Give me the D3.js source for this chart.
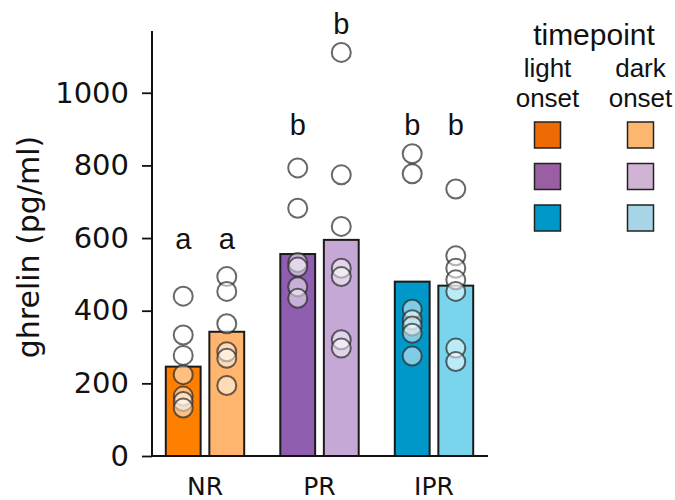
<!DOCTYPE html>
<html>
<head>
<meta charset="utf-8">
<script src="https://cdn.jsdelivr.net/npm/d3@7"></script>
<style>
  html, body { margin: 0; padding: 0; background: #fff; }
  svg { display: block; }
</style>
</head>
<body>
<svg id="chart" width="675" height="500"></svg>
<script>
// ---------- data ----------
const groups = ["NR", "PR", "IPR"];
const timepoints = ["light", "dark"];
const timepointLabels = [["light", "onset"], ["dark", "onset"]];
const yTicks = [0, 200, 400, 600, 800, 1000];

// mean bar heights (pg/ml), [light, dark] per group
const meanNR = [246, 342];
const meanPR = [556, 595];
const meanIPR = [480, 469];

// individual animals
const ptsNRlight = [440, 333, 277, 224, 165, 150, 132];
const ptsNRdark = [494, 453, 364, 287, 269, 194];
const ptsPRlight = [793, 682, 533, 520, 466, 434];
const ptsPRdark = [1111, 774, 632, 517, 494, 320, 297];
const ptsIPRlight = [832, 777, 404, 375, 358, 338, 275];
const ptsIPRdark = [735, 551, 517, 485, 453, 297, 260];

// significance letters and their heights (data units)
const sigLetters = [["a", "a"], ["b", "b"], ["b", "b"]];
const sigHeights = [[570, 570], [884, 1162], [884, 884]];

const barColors = [["#FF7F00", "#FFB56E"], ["#8F5EAF", "#C5A8D6"], ["#0098C8", "#79D5EE"]];
const legendColors = [["#EE6A05", "#FDB66D"], ["#9A5FA3", "#D1B3D5"], ["#0097C9", "#A5D5E6"]];

const means = [meanNR, meanPR, meanIPR];
const points = [[ptsNRlight, ptsNRdark], [ptsPRlight, ptsPRdark], [ptsIPRlight, ptsIPRdark]];

// ---------- layout ----------
const svg = d3.select("#chart");
const axisX = 152, axisBottom = 456, axisTop = 31, axisRight = 488;

const y = d3.scaleLinear().domain([0, 1170]).range([axisBottom, axisTop]);
const x = d3.scaleBand().domain(groups).range([147.75, 491.25]).padding(0);
const xSub = d3.scaleBand().domain(timepoints).range([-39.2, 39.2]).paddingInner(0.2).paddingOuter(0);

// bars
const barData = [];
groups.forEach((g, gi) => timepoints.forEach((t, ti) => {
  barData.push({g, t, gi, ti, v: means[gi][ti], pts: points[gi][ti]});
}));

const gx = d => x(d.g) + x.bandwidth() / 2 + xSub(d.t);

svg.append("g").selectAll("rect").data(barData).join("rect")
  .attr("x", d => gx(d))
  .attr("y", d => y(d.v))
  .attr("width", xSub.bandwidth())
  .attr("height", d => y(0) - y(d.v))
  .attr("fill", d => barColors[d.gi][d.ti])
  .attr("stroke", "#1a1a1a")
  .attr("stroke-width", 2);

// points
const ptData = [];
barData.forEach(d => d.pts.forEach(v => ptData.push({cx: gx(d) + xSub.bandwidth() / 2, v})));
svg.append("g").selectAll("circle").data(ptData).join("circle")
  .attr("cx", d => d.cx)
  .attr("cy", d => y(d.v))
  .attr("r", 9.5)
  .attr("fill", "rgba(255,255,255,0.5)")
  .attr("stroke", "rgba(40,40,40,0.7)")
  .attr("stroke-width", 2);

// significance letters
svg.append("g").selectAll("text").data(barData).join("text")
  .attr("x", d => gx(d) + xSub.bandwidth() / 2)
  .attr("y", d => y(sigHeights[d.gi][d.ti]))
  .attr("text-anchor", "middle")
  .attr("font-family", "Liberation Sans, Arial, sans-serif")
  .attr("font-size", 29)
  .attr("fill", "#111")
  .text(d => sigLetters[d.gi][d.ti]);

// y axis
const yAxis = d3.axisLeft(y).tickValues(yTicks).tickFormat(d3.format("d"))
  .tickSize(10).tickPadding(13).tickSizeOuter(0);
const ya = svg.append("g").attr("transform", `translate(${axisX},0)`).call(yAxis);
ya.select(".domain").attr("stroke", "#111").attr("stroke-width", 2).attr("d", `M0,${axisTop}V${axisBottom}`);
ya.selectAll(".tick line").attr("stroke", "#111").attr("stroke-width", 1.8);
ya.selectAll(".tick text").attr("font-family", "DejaVu Sans, sans-serif").attr("font-size", 29).attr("fill", "#111");

// x axis
const xAxis = d3.axisBottom(x).tickSize(0).tickPadding(21);
const xa = svg.append("g").attr("transform", `translate(0,${axisBottom})`).call(xAxis);
xa.select(".domain").attr("stroke", "#111").attr("stroke-width", 2).attr("d", `M${axisX},0H${axisRight}`);
xa.selectAll(".tick text").attr("font-family", "DejaVu Sans, sans-serif").attr("font-size", 25).attr("fill", "#111");

// y label
svg.append("text")
  .attr("transform", "translate(28,247) rotate(-90)")
  .attr("text-anchor", "middle")
  .attr("dominant-baseline", "central")
  .attr("font-family", "DejaVu Sans, sans-serif")
  .attr("font-size", 30)
  .attr("fill", "#111")
  .text("ghrelin (pg/ml)");

// legend
const leg = svg.append("g").attr("font-family", "Liberation Sans, Arial, sans-serif").attr("fill", "#111");
leg.append("text").attr("x", 594).attr("y", 45).attr("text-anchor", "middle").attr("font-size", 30).text("timepoint");
const legCols = [547.5, 640.5];
timepointLabels.forEach((lines, ti) => {
  lines.forEach((s, li) => {
    leg.append("text").attr("x", legCols[ti]).attr("y", 77 + li * 30)
      .attr("text-anchor", "middle").attr("font-size", 26).text(s);
  });
});
groups.forEach((g, gi) => timepoints.forEach((t, ti) => {
  leg.append("rect")
    .attr("x", legCols[ti] - 13).attr("y", 122 + gi * 41.5)
    .attr("width", 26).attr("height", 26)
    .attr("fill", legendColors[gi][ti])
    .attr("stroke", "#222").attr("stroke-width", 1.5);
}));
</script>
</body>
</html>
